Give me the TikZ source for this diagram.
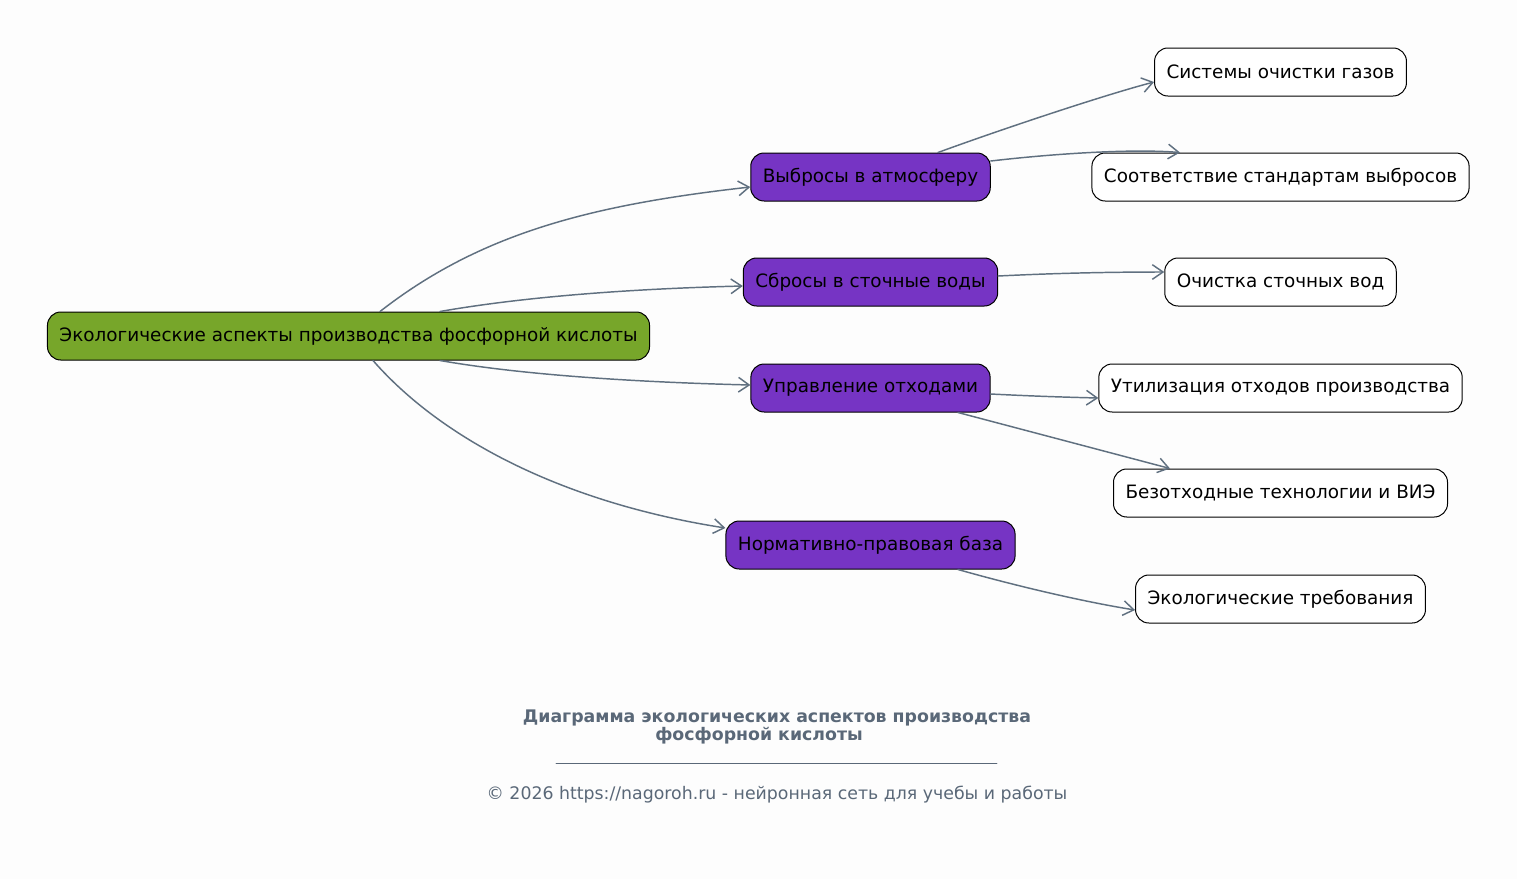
\documentclass[tikz,border=0pt]{standalone}
\usepackage{fontspec}
\setmainfont{DejaVu Sans}
\usetikzlibrary{arrows.meta,calc}
\definecolor{rootgreen}{RGB}{119,166,42}
\definecolor{topicviolet}{RGB}{118,52,196}
\definecolor{edgegray}{RGB}{96,112,128}
\definecolor{titlegray}{RGB}{90,104,120}
\definecolor{paper}{RGB}{253,253,253}
\tikzset{
  box/.style={draw=black,line width=0.75pt,rounded corners=10pt,minimum height=36pt,
    inner xsep=9pt,font=\fontsize{13.8}{16}\selectfont,text=black},
  rootbox/.style={box,fill=rootgreen},
  topicbox/.style={box,fill=topicviolet},
  leafbox/.style={box,fill=white},
  link/.style={draw=edgegray,line width=1.1pt,-{Straight Barb[length=8pt,width=11pt]}},
}
\begin{document}
\begin{tikzpicture}[line cap=round,line join=round,x=0.75pt,y=-0.75pt]
\fill[paper] (0,0) rectangle (1517,879);
\useasboundingbox (0,0) rectangle (1517,879);
% nodes
\node[rootbox] (root) at (348.5,336) {Экологические аспекты производства фосфорной кислоты};
\node[topicbox] (air) at (870.5,177) {Выбросы в атмосферу};
\node[topicbox] (drain) at (870.5,282) {Сбросы в сточные воды};
\node[topicbox] (waste) at (870.5,388) {Управление отходами};
\node[topicbox] (law) at (870.5,545) {Нормативно-правовая база};
\node[leafbox] (gas) at (1280.5,72) {Системы очистки газов};
\node[leafbox] (comply) at (1280.5,177) {Соответствие стандартам выбросов};
\node[leafbox] (clean) at (1280.5,282) {Очистка сточных вод};
\node[leafbox] (recycle) at (1280.5,388) {Утилизация отходов производства};
\node[leafbox] (zero) at (1280.5,493) {Безотходные технологии и ВИЭ};
\node[leafbox] (req) at (1280.5,599) {Экологические требования};
% links
\draw[link] ($(root.north)+(31.5,0)$) .. controls +(100,-78) and +(-160,18) .. ($(air.west)+(0,10)$);
\draw[link] ($(root.north)+(91.5,0)$) .. controls +(80,-14) and +(-120,3) .. ($(drain.west)+(0,4)$);
\draw[link] ($(root.south)+(91.5,0)$) .. controls +(80,14) and +(-120,-3) .. ($(waste.west)+(0,-3)$);
\draw[link] ($(root.south)+(24.5,0)$) .. controls +(70,80) and +(-160,-25) .. ($(law.west)+(0,-17)$);
\draw[link] ($(air.north)+(67.5,0)$) .. controls +(60,-22) and +(-50,13) .. ($(gas.west)+(0,10)$);
\draw[link] ($(air.east)+(0,-16)$) .. controls +(60,-7) and +(-50,-4) .. ($(comply.north)+(-100.5,0)$);
\draw[link] ($(drain.east)+(0,-6)$) .. controls +(60,-3) and +(-50,0) .. ($(clean.west)+(0,-10)$);
\draw[link] ($(waste.east)+(0,6)$) .. controls +(40,2) and +(-40,-1) .. ($(recycle.west)+(0,10)$);
\draw[link] ($(waste.south)+(87.5,0)$) -- ($(zero.north)+(-110.5,0)$);
\draw[link] ($(law.south)+(87.5,0)$) .. controls +(60,17) and +(-50,-8) .. ($(req.west)+(0,11)$);
% caption
\node[text=titlegray,font=\bfseries\fontsize{13}{13.5}\selectfont,align=center] (title) at (777,727)
  {Диаграмма экологических аспектов производства\\\hspace*{-27pt}фосфорной кислоты};
\draw[titlegray,line width=0.6pt] (556,763) -- (997,763);
\node[text=titlegray,font=\fontsize{13}{15}\selectfont] (copy) at (777,795)
  {© 2026 https://nagoroh.ru - нейронная сеть для учебы и работы};
\end{tikzpicture}
\end{document}
